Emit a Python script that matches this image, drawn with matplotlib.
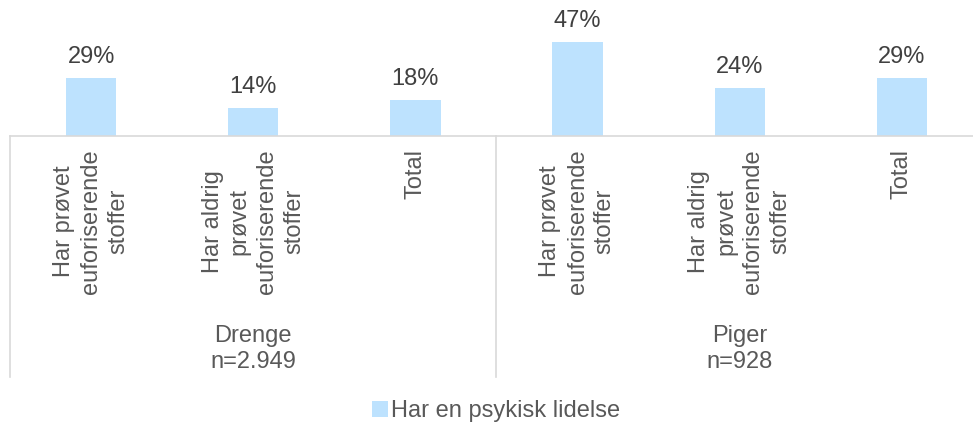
import matplotlib.pyplot as plt
from matplotlib.transforms import blended_transform_factory

plt.rcParams['font.family'] = ['Liberation Sans', 'DejaVu Sans']

# data
categories = ['Har prøvet\neuforiserende\nstoffer',
              'Har aldrig\nprøvet\neuforiserende\nstoffer',
              'Total',
              'Har prøvet\neuforiserende\nstoffer',
              'Har aldrig\nprøvet\neuforiserende\nstoffer',
              'Total']
values = [29, 14, 18, 47, 24, 29]
groups = ['Drenge\nn=2.949', 'Piger\nn=928']
series_name = 'Har en psykisk lidelse'

W, H = 973, 423
fig = plt.figure(figsize=(W / 100, H / 100), dpi=100)

def fy(py):
    # pixel row -> figure fraction
    return 1 - py / H

# axes runs from x=10 to x=983 px (past the right edge), baseline at y=136 px
ax = fig.add_axes([10 / W, fy(136), 973 / W, 136 / H])
xs = list(range(len(values)))
bars = ax.bar(xs, values, width=0.31, color='#BDE2FE', label=series_name, zorder=2)
ax.set_xlim(-0.5, 5.5)
ax.set_ylim(0, 68)
ax.bar_label(bars, labels=[f'{v}%' for v in values], padding=7,
             fontsize=17, color='#404040')

for s in ['top', 'left', 'right']:
    ax.spines[s].set_visible(False)
ax.spines['bottom'].set_color('#d9d9d9')
ax.spines['bottom'].set_linewidth(1.2)
ax.set_xticks([])
ax.set_yticks([])

tr = blended_transform_factory(ax.transData, fig.transFigure)
for x, lab in zip(xs, categories):
    ax.text(x, fy(149), lab, rotation=90, ha='center', va='top',
            multialignment='center', fontsize=17, color='#595959',
            transform=tr, linespacing=1.3)

for i, g in enumerate(groups):
    ax.text(3 * i + 1, fy(349), g, ha='center', va='center', fontsize=17,
            color='#595959', transform=tr, linespacing=1.25)

for xsep in [-0.5, 2.5, 5.5]:
    ax.plot([xsep, xsep], [fy(136), fy(377)], color='#d9d9d9', lw=1.2,
            transform=tr, clip_on=False)

fig.legend(loc='center', bbox_to_anchor=(0.5 + 10 / W, fy(411)), frameon=False,
           fontsize=17, handlelength=0.65, handleheight=0.65, handletextpad=0.15,
           labelcolor='#595959')

fig.savefig('out.png', dpi=100)
